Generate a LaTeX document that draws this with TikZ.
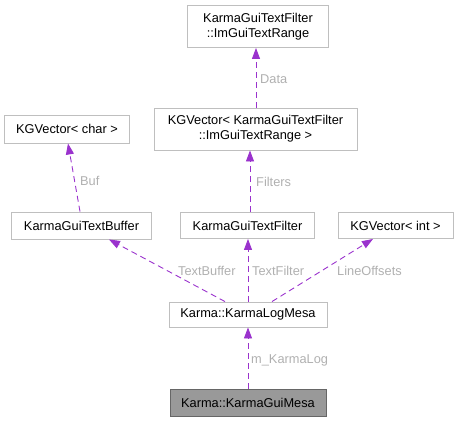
\documentclass[tikz,border=0pt]{standalone}
\usepackage{fontspec}
\setmainfont{Liberation Sans}
\usetikzlibrary{arrows.meta}
\definecolor{edgec}{HTML}{9A32CD}
\definecolor{boxc}{HTML}{BFBFBF}
\definecolor{labc}{HTML}{B0B0B0}
\tikzset{
  cls/.style={draw=boxc, line width=0.9pt, fill=white, inner sep=0pt, align=center,
    font=\fontsize{12.8}{15}\selectfont, text=black},
  cur/.style={cls, draw=black!60, fill=black!40},
  rel/.style={draw=edgec, line width=0.9pt, dash pattern=on 6pt off 4pt,
    -{Triangle[length=11pt,width=8pt,fill=edgec]}},
  lab/.style={text=labc, font=\fontsize{12.8}{15}\selectfont, inner sep=0pt}
}
\begin{document}
\begin{tikzpicture}[x=1pt,y=-1pt]
\useasboundingbox (0,0) rectangle (459,421);
\node[cls, minimum width=141pt, minimum height=42pt] (range) at (258,26.5) {KarmaGuiTextFilter\\::ImGuiTextRange};
\node[cls, minimum width=203pt, minimum height=42pt] (vrange) at (255.5,129) {KGVector< KarmaGuiTextFilter\\::ImGuiTextRange >};
\node[cls, minimum width=125pt, minimum height=28pt] (vchar) at (67,129) {KGVector< char >};
\node[cls, minimum width=140pt, minimum height=27pt] (tbuf) at (81.5,225.5) {KarmaGuiTextBuffer};
\node[cls, minimum width=134pt, minimum height=26pt] (tfilt) at (247.5,225.5) {KarmaGuiTextFilter};
\node[cls, minimum width=115pt, minimum height=26pt] (vint) at (395.5,225.5) {KGVector< int >};
\node[cls, minimum width=158pt, minimum height=25pt] (logm) at (248,314.5) {Karma::KarmaLogMesa};
\node[cur, minimum width=156pt, minimum height=27pt] (guim) at (248,402.5) {Karma::KarmaGuiMesa};

\draw[rel] (vrange.north -| 256,0) -- (range.south -| 256,0);
\draw[rel] (tbuf.north -| 80,0) -- (vchar.south -| 68,0);
\draw[rel] (tfilt.north -| 250,0) -- (vrange.south -| 250,0);
\draw[rel] (logm.north -| 225,0) -- (tbuf.south -| 109,0);
\draw[rel] (logm.north -| 248,0) -- (tfilt.south -| 248,0);
\draw[rel] (logm.north -| 272,0) -- (vint.south -| 373,0);
\draw[rel] (guim.north) -- (logm.south);

\node[lab, anchor=west] (l1) at (260,79) {Data};
\node[lab, anchor=west] (l2) at (80,181) {Buf};
\node[lab, anchor=west] (l3) at (256,182) {Filters};
\node[lab, anchor=west] (l4) at (178,271) {TextBuffer};
\node[lab, anchor=west] (l5) at (252,271) {TextFilter};
\node[lab, anchor=west] (l6) at (337,271) {LineOffsets};
\node[lab, anchor=west] (l7) at (251,360) {m\_KarmaLog};
\end{tikzpicture}
\end{document}
